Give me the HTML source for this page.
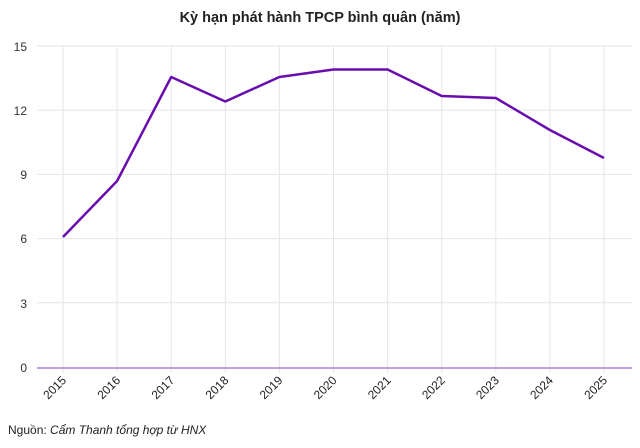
<!DOCTYPE html>
<html><head><meta charset="utf-8"><style>
body{margin:0;background:#fff;}
svg{display:block;font-family:"Liberation Sans",sans-serif;}
</style></head><body>
<svg width="640" height="448" viewBox="0 0 640 448">
<text x="320" y="22" text-anchor="middle" font-size="14.5" font-weight="bold" fill="#222">Kỳ hạn phát hành TPCP bình quân (năm)</text>
<g stroke="#e6e6e6" stroke-width="1">
<line x1="37" y1="46" x2="632" y2="46"/>
<line x1="37" y1="110.2" x2="632" y2="110.2"/>
<line x1="37" y1="174.4" x2="632" y2="174.4"/>
<line x1="37" y1="238.6" x2="632" y2="238.6"/>
<line x1="37" y1="302.8" x2="632" y2="302.8"/>
<line x1="63" y1="46" x2="63" y2="373"/>
<line x1="117.1" y1="46" x2="117.1" y2="373"/>
<line x1="171.2" y1="46" x2="171.2" y2="373"/>
<line x1="225.3" y1="46" x2="225.3" y2="373"/>
<line x1="279.4" y1="46" x2="279.4" y2="373"/>
<line x1="333.5" y1="46" x2="333.5" y2="373"/>
<line x1="387.6" y1="46" x2="387.6" y2="373"/>
<line x1="441.7" y1="46" x2="441.7" y2="373"/>
<line x1="495.8" y1="46" x2="495.8" y2="373"/>
<line x1="549.9" y1="46" x2="549.9" y2="373"/>
<line x1="604" y1="46" x2="604" y2="373"/>
</g>
<line x1="37" y1="368" x2="632" y2="368" stroke="#b07fd6" stroke-width="1.5"/>
<g font-size="12" fill="#333" text-anchor="end">
<text x="27" y="51">15</text>
<text x="27" y="115">12</text>
<text x="27" y="179">9</text>
<text x="27" y="243">6</text>
<text x="27" y="308">3</text>
<text x="27" y="372">0</text>
</g>
<g font-size="12" fill="#222" text-anchor="end">
<text transform="translate(67,381) rotate(-45)">2015</text>
<text transform="translate(121.1,381) rotate(-45)">2016</text>
<text transform="translate(175.2,381) rotate(-45)">2017</text>
<text transform="translate(229.3,381) rotate(-45)">2018</text>
<text transform="translate(283.4,381) rotate(-45)">2019</text>
<text transform="translate(337.5,381) rotate(-45)">2020</text>
<text transform="translate(391.6,381) rotate(-45)">2021</text>
<text transform="translate(445.7,381) rotate(-45)">2022</text>
<text transform="translate(499.8,381) rotate(-45)">2023</text>
<text transform="translate(553.9,381) rotate(-45)">2024</text>
<text transform="translate(608,381) rotate(-45)">2025</text>
</g>
<polyline fill="none" stroke="#6a0dad" stroke-width="2.5" stroke-linejoin="round" points="63,237 117.1,181 171.2,77 225.3,101.5 279.4,77 333.5,69.5 387.6,69.5 441.7,96 495.8,98 549.9,130 604,158"/>
<text x="8" y="434" font-size="12" fill="#222">Nguồn: <tspan font-style="italic">Cẩm Thanh tổng hợp từ HNX</tspan></text>
</svg>
</body></html>
